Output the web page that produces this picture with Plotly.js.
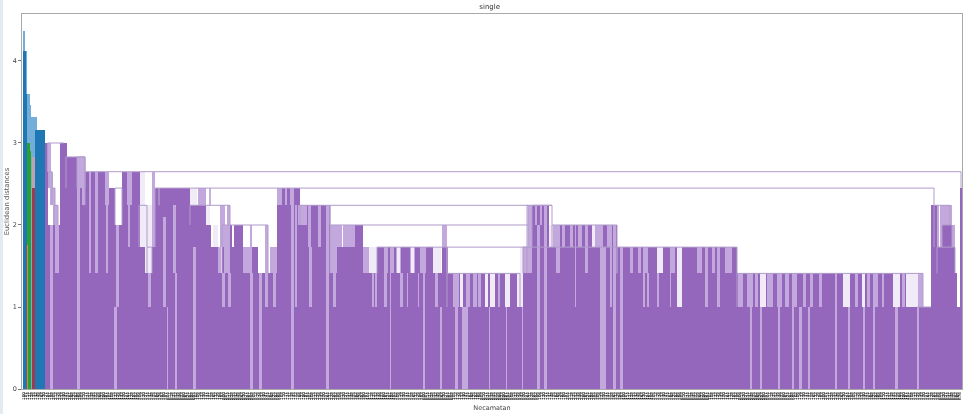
<!DOCTYPE html>
<html>
<head>
<meta charset="utf-8">
<script src="https://cdn.plot.ly/plotly-3.0.1.min.js"></script>
<style>
html,body{margin:0;padding:0;background:#fff;width:964px;height:414px;overflow:hidden}
#band{position:absolute;left:0;top:0;width:3px;height:414px;background:#e4ebf0}
#chart{position:absolute;left:0;top:0;width:964px;height:414px;filter:blur(0.7px)}
</style>
</head>
<body>
<div id="chart"></div>
<div id="band"></div>
<script>
// Merge heights are squared-distance roots; x is position along the leaf axis.
var skyStart  = [45,47.5,60,66.7,77,82,85,105,109,115,122,127,132,139.5,145,152,155,190,207,211,218,222,232,234,243,250,252,258,277,282,290,294,300,330,336,355,363,377,433,442,448,523,532,549,553,617,737,923,931,937,942,952,955,957,960];
var skyHeight = [3,2,3,2.83,2.45,2.24,2.65,2.24,2.45,2,2.65,2.24,2.65,1.73,1.41,1.73,2.45,2.24,2,1.73,1.41,2,1.73,2,1.41,1.41,1.73,1.41,2.24,2.45,2.24,2.45,2.24,1.41,1.73,2,1.41,1.73,1.41,1.73,1.41,1.41,2.24,1.73,2,1.73,1.41,1,2.24,1.73,2,1.73,1.41,1,2.45];
var skyEnd = 963;

// [from, to, low, high]
var paleStripes = [
 [47.5,51,2.65,3],[47.5,53,2.45,2.65],[50,55,2.24,2.45],[53,58,2,2.24],[50,52.7,0,2],[55,59,1.41,2],
 [77,82,2.45,2.83],[82,85,2.24,2.83],[77,80,0,2.45],[89,91,1.41,2.65],[95,98,1.41,2.65],[105,109,2.24,2.65],[106,108,1.41,2.24],
 [116,119,1,2],[114,116.5,0,1],[127,132,2.24,2.65],[127.5,130,1.73,2.24],[152,155,1.73,2.65],[148,151,1,1.41],
 [163,166,1,2.1],[167,168,0,1],[173,176,1.41,2.24],[175,177,0,1.41],[193,196,0,1.73],[198,205,2.24,2.45],
 [200,206,2.24,2.45],[218,221,1.41,1.73],[220,225,1.73,2.24],[222,225,1,1.41],[227,230,1.41,2.24],[228,231,1,1.41],[224,228,1.41,2],
 [243,250,1.41,1.73],[250,252,1.41,2],[250,253,0,1.41],[259,262,0,1.41],[265,268,1,2],[270,277,1.41,1.73],[273,275.5,1,1.41],
 [277,282,2.24,2.45],[285,287,2.24,2.45],[290,294,2.24,2.45],[291,293.5,0,2.24],[295,297,1,2.24],[298,307,2,2.24],[308,311,1.73,2.24],[309,312,1,1.73],
 [318,321,1.73,2.24],[326,329,0,2.24],[330,337,1.41,2],[333,336,1,1.41],[337,342,1.73,2],[343,355,1.73,2],
 [363,369,1.41,1.73],[372,374,1,1.41],[375,377,1,1.41],[384,388,1.41,1.73],[384,387,1,1.41],[391,394,1.41,1.73],[390,391,0,1.73],[396,401,1.41,1.73],[400,403,1,1.41],[407,408,1,1.41],
 [410,415,1.41,1.73],[418,419,1,1.41],[420,426,1.41,1.73],[423,425,0,1.41],[435,438,1,1.41],[440,442,0,1],[442,447,1.73,2],
 [453,459,1,1.41],[466,470,1,1.41],[473,477,1,1.41],[478,481,1,1.41],[498,500,1,1.41],[462,468,0,1],[455,458,0,1],[489,490,0,1],[506,507,0,1],[522,523,0,1],
 [523,532,1.41,1.73],[528,532,1.73,2.24],[535,537,2,2.24],[537,540,0,2],[540,542,2,2.24],[544,547,0,2.24],
 [553,560,1.73,2],[556,558,1.41,1.73],[558,560,1.41,1.73],[562,565,1.73,2],[570,573,1.73,2],[575,576,1,2],[578,582,1.73,2],[585,588,1.41,2],[595,603,1.73,2],[600,606,0,1.73],[607,610,1.73,2],[610,612,1,2],[613,616,0,2],[620,623,0,1.73],
 [630,633,1.41,1.73],[638,641,1.41,1.73],[643,648,1.41,1.73],[643,645,1,1.41],[647,649,1,1.41],[657,659,1,1.41],[670,675,1.41,1.73],[670,671,1,1.41],[697,702,1.41,1.73],[705,708,1,1.73],[712,715,1.41,1.73],[717,720,1,1.73],[725,732,1.41,1.73],
 [738,743,1,1.41],[747,753,1,1.41],[755,758,1,1.41],[767,773,1,1.41],[777,782,1,1.41],[785,789,1,1.41],[792,797,1,1.41],[803,806,1,1.41],[810,813,1,1.41],[819,822,1,1.41],[835,837,1,1.41],[855,858,1,1.41],[867,870,1,1.41],[873,878,1,1.41],[882,884,1,1.41],[902,905,1,1.41],[918,923,1,1.41],
 [750,752,0,1],[760,762,0,1],[778,780,0,1],[792,794,0,1],[799,802,0,1],[808,810,0,1],[835,837,0,1],[848,850,0,1],[863,865,0,1],[873,875,0,1],[895,898,0,1],[917,919,0,1],
 [937,939,1.73,2.24],[940,942,1.73,2.24],[942,952,2,2.24],[952,955,1.73,2]
];
var lightStripes = [
 [190,196.7,2.24,2.45],[206,210,2,2.24],[213,218,1.73,2],[369,377,1.41,1.73],[397,400,1.41,1.73],[411,414,1.41,1.73],[433,441,1.41,1.73],
 [460,463,1,1.41],[485,488,1,1.41],[490,495,1,1.41],[505,510,1,1.41],[517,523,1,1.41],[520,523,1.41,1.73],[549,553,1.73,2],[592,595,1.73,2],
 [657,663,1.41,1.73],[677,682,1,1.73],[760,766,1,1.41],[843,850,1,1.41],[862,865,1,1.41],[893,900,1,1.41],[906,918,1,1.41],[139.5,145,1.73,2.65],[145,152,1.41,2.24]
];

// [left, right, height, left foot, right foot]
var mergeLinks = [
 [47.5,64,3,2.65,3],[66,85,2.83,2.45,2.65],[85,961,2.65,2.45,2.45],[159,934,2.45,2.24,2.24],[190,230,2.24,2,2],[210,210,2.45,2.24,2.24],[222,268,2,1.41,1.41],
 [330,528,2.24,2,2],[330,528,2,1.41,1.73],[300,330,2.24,2,2],[532,552,2.24,1.73,2],[552,617,2,1.73,1.73],[447,527,1.73,1.41,1.41],[377,447,1.73,1.41,1.41],
 [523,617,1.73,1.41,1.41],[617,737,1.73,1.41,1.41],[447,520,1.41,1,1],[737,923,1.41,1,1],[917,931,1,1,1],[934,950,2.24,1.73,2],[942,952,2,1.73,1.73],[937,955,1.73,1.41,1.41],
 [527,552,2.24,1.73,2.24],[49,52,2.65,2.45,2.45],[52,55,2.45,2.24,2.24],[54,58,2.24,2,2],[139,147,2.24,1.73,1.73],[147,152,1.73,1.41,1.41],[115,122,2.45,2,2],[77,85,2.83,2.45,2.24],[155,159,2.45,1.73,2.24]
];

// Low-index clusters at the far left, one list per colour: [from, to, high]
var blueSolid  = [[22.5,26,4.12],[26,27,3.6],[35,44.5,3.16]];
var bluePale   = [[22.5,25,4.36],[24,27,4.12],[26,30,3.6],[28,31,3.46],[30,37,3.32],[30,36,3.0]];
var greenSolid = [[27.3,30,3.0],[30,31,2.9]];
var orangeSolid = [[26.8,27.6,1.75]];
var redSolid   = [[31.5,35,2.45]];
var redPale    = [[31.5,35,2.83]];

var leafLabels = [];
for (var n = 0; n < 470; n++) { leafLabels.push(String(n * 7 % 900 + 100)); }

var tickPositions = leafLabels.map(function(_, i){ return 24 + i * 2; });

function bars(rows, color, name) {
  return {type:'bar', name:name, showlegend:false, hoverinfo:'skip',
    x: rows.map(function(r){return (r[0]+r[1])/2;}),
    width: rows.map(function(r){return r[1]-r[0];}),
    base: rows.map(function(r){return r.length>3 ? r[2] : 0;}),
    y: rows.map(function(r){return r.length>3 ? r[3]-r[2] : r[2];}),
    marker:{color:color, line:{width:0}}};
}
var skyRows = skyStart.map(function(s,i){ return [s, i+1<skyStart.length ? skyStart[i+1] : skyEnd, skyHeight[i]]; });

var linkX = [], linkY = [];
mergeLinks.forEach(function(l){
  linkX.push(l[0],l[0],l[1],l[1],null);
  linkY.push(l[3],l[2],l[2],l[4],null);
});

var traces = [
  bars(bluePale,'#72aed8','blue pale'),
  bars(redPale,'#bfa3b0','red pale'),
  bars(blueSolid,'#1f77b4','blue'),
  bars(greenSolid,'#2ca02c','green'),
  bars(orangeSolid,'#ff7f0e','orange'),
  bars(redSolid,'#a03a4f','red'),
  bars(skyRows,'#9467bd','purple'),
  bars(paleStripes,'#c3a8dd','pale gaps'),
  bars(lightStripes,'#f1ebf8','light gaps'),
  {type:'scatter',mode:'lines',x:linkX,y:linkY,connectgaps:false,showlegend:false,hoverinfo:'skip',
   line:{color:'#b09ccb',width:1}}
];

var layout = {
  width:964,height:414,
  margin:{l:22,r:2,t:14,b:25},
  paper_bgcolor:'#fff',plot_bgcolor:'#fff',
  barmode:'overlay',bargap:0,showlegend:false,
  font:{family:'DejaVu Sans',color:'#444'},
  title:{text:'single',font:{size:7,color:'#333',family:'DejaVu Sans'},x:0.508,xanchor:'center',y:0.983,yanchor:'middle'},
  xaxis:{range:[22,962],showgrid:false,zeroline:false,showline:true,mirror:true,linecolor:'#a9a9a9',linewidth:1.3,
    tickmode:'array',tickvals:tickPositions,ticktext:leafLabels,tickangle:-90,ticks:'',
    tickfont:{size:4.2,color:'#000'},
    title:{text:'Necamatan',font:{size:6.5,color:'#444'},standoff:6}},
  yaxis:{range:[0,4.573],showgrid:false,zeroline:false,showline:true,mirror:true,linecolor:'#a9a9a9',linewidth:1.3,
    tickvals:[0,1,2,3,4],ticktext:['0','1','2','3','4'],ticks:'outside',ticklen:2.5,tickcolor:'#777',tickwidth:1,
    tickfont:{size:6.5,color:'#444'},
    title:{text:'Euclidean distances',font:{size:6.8,color:'#555'},standoff:2}}
};
Plotly.newPlot('chart',traces,layout,{displayModeBar:false,staticPlot:true});
</script>
</body>
</html>
